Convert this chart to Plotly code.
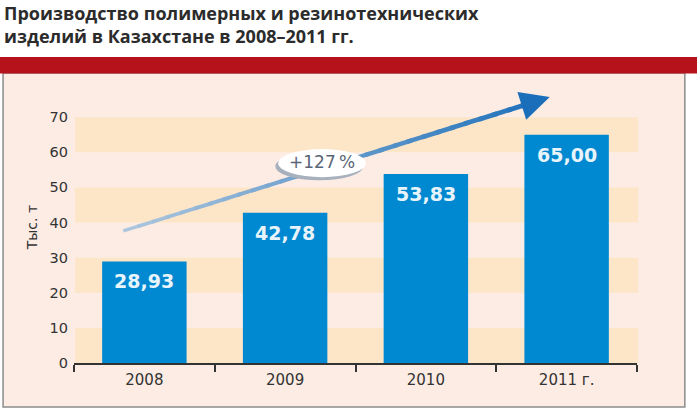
import plotly.graph_objects as go

years = ["2008", "2009", "2010", "2011 г."]
output = [28.93, 42.78, 53.83, 65.00]
y_ticks = [0, 10, 20, 30, 40, 50, 60, 70]
growth_label = "+127\u2009%"

title = "Производство полимерных и резинотехнических<br>изделий в Казахстане в 2008–2011 гг."

BAR_BLUE = "#0089d0"
STRIPE = "#fde5c8"
PANEL = "#fcece4"
RED = "#b5121b"
TEXT = "#333333"

# arrow ends in data units (category index, value)
arrow_start = (-0.15, 37.6)
arrow_end = (2.88, 75.7)

fig = go.Figure()

fig.add_trace(go.Bar(
    x=list(range(len(years))), y=output,
    marker=dict(color=BAR_BLUE, line=dict(width=0)),
    width=0.6, hoverinfo="skip",
))

shapes = []
# background panel and red band
shapes.append(dict(type="rect", xref="paper", yref="paper", x0=-0.126, x1=1.085,
                   y0=-0.157, y1=1.032, fillcolor=PANEL,
                   line=dict(color="#8c8c8c", width=1.5), layer="below"))
shapes.append(dict(type="rect", xref="paper", yref="paper", x0=-0.135, x1=1.11,
                   y0=1.030, y1=1.089, fillcolor=RED, line=dict(width=0), layer="below"))
# stripes
for lo in y_ticks[::2]:
    shapes.append(dict(type="rect", xref="paper", yref="y", x0=0.002, x1=1.002,
                       y0=lo, y1=lo + 10, fillcolor=STRIPE, line=dict(width=0),
                       layer="below"))

# gradient arrow shaft
n = 30
c0 = (176, 200, 222)
c1 = (27, 111, 186)
(xa, ya), (xb, yb) = arrow_start, arrow_end
for i in range(n):
    t0, t1 = i / n, (i + 1) / n
    if t0 >= 0.95:
        break
    t = (t0 + t1) / 2
    col = "rgb(%d,%d,%d)" % tuple(int(a + (b - a) * t) for a, b in zip(c0, c1))
    tend = min(t1 + 0.01, 0.95)
    shapes.append(dict(type="line", xref="x", yref="y",
                       x0=xa + (xb - xa) * t0, y0=ya + (yb - ya) * t0,
                       x1=xa + (xb - xa) * tend, y1=ya + (yb - ya) * tend,
                       line=dict(color=col, width=3.5 + 1.5 * t)))

# ellipse badge with shadow
shapes.append(dict(type="circle", xref="x", yref="y", x0=0.93, x1=1.555,
                   y0=52.0, y1=60.0, fillcolor="#a7b0bd", line=dict(width=0)))
shapes.append(dict(type="circle", xref="x", yref="y", x0=0.95, x1=1.575,
                   y0=52.9, y1=60.9, fillcolor="white", line=dict(width=0)))

annotations = []
for i, v in enumerate(output):
    annotations.append(dict(x=i, y=v, xref="x", yref="y", yanchor="top",
                            yshift=-7, showarrow=False,
                            text="<b>%s</b>" % ("%.2f" % v).replace(".", ","),
                            font=dict(family="DejaVu Sans", size=19, color="#e8f4fb")))

annotations.append(dict(x=arrow_end[0], y=arrow_end[1], ax=xa + (xb - xa) * 0.93,
                        ay=ya + (yb - ya) * 0.93, xref="x", yref="y", axref="x", ayref="y",
                        showarrow=True, arrowhead=2, arrowsize=1.3, arrowwidth=4.5,
                        arrowcolor="rgb(27,111,186)", text=""))
annotations.append(dict(x=1.262, y=57.2, xref="x", yref="y", showarrow=False,
                        text=growth_label,
                        font=dict(family="DejaVu Sans", size=17, color="#5a6577")))
annotations.append(dict(x=-0.092, y=0.48, xref="paper", yref="paper", showarrow=False,
                        text="Тыс. т", textangle=-90,
                        font=dict(family="DejaVu Sans", size=14, color=TEXT)))
annotations.append(dict(x=-0.128, y=1.294, xref="paper", yref="paper", xanchor="left",
                        yanchor="top", align="left", showarrow=False,
                        text="<b>%s</b>" % title,
                        font=dict(family="Open Sans", size=18, color="#2b2b2b")))

fig.update_layout(
    width=697, height=417,
    margin=dict(l=74, r=60, t=82, b=54),
    paper_bgcolor="white", plot_bgcolor="rgba(0,0,0,0)",
    showlegend=False,
    shapes=shapes, annotations=annotations,
    font=dict(family="DejaVu Sans", size=15, color=TEXT),
)
fig.update_xaxes(showline=True, linecolor="#333333", linewidth=2, ticks="",
                 tickmode="array", tickvals=list(range(len(years))), ticktext=years,
                 showgrid=False, range=[-0.5, 3.5], fixedrange=True, ticklabelstandoff=2,
                 # boundary ticks between categories drawn as minor ticks
                 minor=dict(tickvals=[-0.5, 0.5, 1.5, 2.5, 3.5], ticks="outside",
                            ticklen=7, tickwidth=2, tickcolor="#333333"))
fig.update_yaxes(range=[0, 80], tickvals=y_ticks, showgrid=False, zeroline=False,
                 showline=False, ticks="", ticklabelstandoff=5,
                 tickfont=dict(size=14.5), fixedrange=True)

fig.write_html("out.html", config={"displayModeBar": False},
               post_script="document.body.style.margin='0';")
